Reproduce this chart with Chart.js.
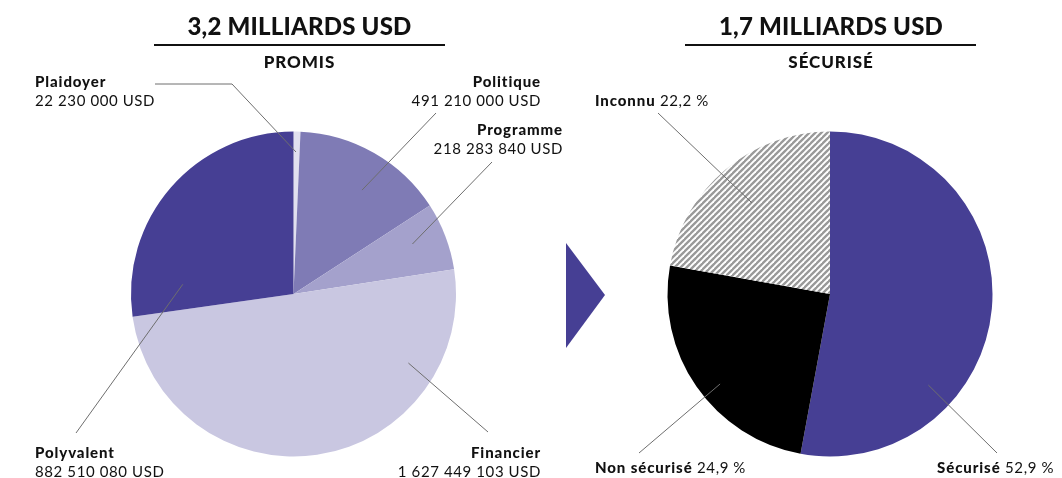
<!DOCTYPE html>
<html><head><meta charset="utf-8">
<script src="https://cdn.jsdelivr.net/npm/chart.js@4/dist/chart.umd.min.js"></script>
<style>
html,body{margin:0;padding:0;background:#fff;}
#wrap{position:relative;width:1062px;height:478px;overflow:hidden;}
canvas{position:absolute;left:0;top:0;}
</style></head><body>
<div id="wrap"><canvas id="c1" width="1062" height="478"></canvas><canvas id="c2" width="1062" height="478"></canvas></div>
<script>
// ---- data ----
const promisCategories = ['Plaidoyer', 'Politique', 'Programme', 'Financier', 'Polyvalent'];
const promisValues = [22230000, 491210000, 218283840, 1627449103, 882510080];
const promisValueLabels = ['22 230 000 USD', '491 210 000 USD', '218 283 840 USD', '1 627 449 103 USD', '882 510 080 USD'];
const securiseCategories = ['Sécurisé', 'Non sécurisé', 'Inconnu'];
const securiseValues = [52.9, 24.9, 22.2];
const securiseValueLabels = ['52,9 %', '24,9 %', '22,2 %'];
const titles = ['3,2 MILLIARDS USD', '1,7 MILLIARDS USD'];
const subtitles = ['PROMIS', 'SÉCURISÉ'];

// ---- hatch pattern ----
const pc = document.createElement('canvas'); pc.width = 6; pc.height = 6;
const pctx = pc.getContext('2d');
pctx.fillStyle = '#ffffff'; pctx.fillRect(0, 0, 6, 6);
pctx.strokeStyle = '#999999'; pctx.lineWidth = 2.3;
for (const k of [0, 6, 12]) { pctx.beginPath(); pctx.moveTo(k + 2, -2); pctx.lineTo(-2, k + 2); pctx.stroke(); }
const hatch = pctx.createPattern(pc, 'repeat');

const FONT = 'Lato, "Open Sans", sans-serif';

function setFont(ctx, weight, size, spacing) {
  ctx.font = weight + ' ' + size + 'px ' + FONT;
  if ('letterSpacing' in ctx) ctx.letterSpacing = (spacing || 0) + 'px';
}
const BOLD = [900, 15, 0.9];
const REG = [400, 15, 0.6];

const callouts = {
  id: 'callouts',
  afterDraw(chart, args, o) {
    const ctx = chart.ctx;
    const meta = chart.getDatasetMeta(0);
    ctx.save();
    ctx.fillStyle = '#111';
    ctx.textBaseline = 'alphabetic';
    ctx.textAlign = 'center';
    setFont(ctx, 900, 24, 0.2);
    ctx.fillText(o.title, o.titleX, 35);
    ctx.fillRect(o.rule[0], 44, o.rule[1] - o.rule[0], 2);
    setFont(ctx, 900, 17, 0.9);
    ctx.fillText(o.subtitle, o.titleX, 68);
    if (o.triangle) {
      ctx.fillStyle = '#463f94';
      ctx.beginPath(); ctx.moveTo(...o.triangle[0]); ctx.lineTo(...o.triangle[1]); ctx.lineTo(...o.triangle[2]); ctx.closePath(); ctx.fill();
    }
    o.items.forEach((it, i) => {
      const arc = meta.data[i];
      const p = arc.getProps(['x', 'y', 'outerRadius'], true);
      const a = it.angle * Math.PI / 180;
      const px = p.x + Math.sin(a) * p.outerRadius * it.r;
      const py = p.y - Math.cos(a) * p.outerRadius * it.r;
      ctx.strokeStyle = '#6e6e6e'; ctx.lineWidth = 1;
      ctx.beginPath();
      ctx.moveTo(it.path[0][0], it.path[0][1]);
      for (let k = 1; k < it.path.length; k++) ctx.lineTo(it.path[k][0], it.path[k][1]);
      ctx.lineTo(px, py);
      ctx.stroke();
      const name = chart.data.labels[i];
      const val = o.values[i];
      ctx.fillStyle = '#111';
      if (it.inline) {
        setFont(ctx, ...BOLD);
        const wn = ctx.measureText(name + ' ').width;
        setFont(ctx, ...REG);
        const wv = ctx.measureText(val).width;
        const x0 = it.align === 'right' ? it.x - wn - wv : it.x;
        ctx.textAlign = 'left';
        setFont(ctx, ...BOLD);
        ctx.fillText(name, x0, it.y);
        setFont(ctx, ...REG);
        ctx.fillText(val, x0 + wn, it.y);
      } else {
        ctx.textAlign = it.align;
        setFont(ctx, ...BOLD);
        ctx.fillText(name, it.x, it.y);
        setFont(ctx, ...REG);
        ctx.fillText(val, it.x, it.y + 19);
      }
    });
    ctx.restore();
  }
};

const common = {
  responsive: false, animation: false, events: [],
  plugins: { legend: { display: false }, tooltip: { enabled: false } }
};

new Chart(document.getElementById('c1'), {
  type: 'pie',
  data: {
    labels: promisCategories,
    datasets: [{ data: promisValues, backgroundColor: ['#e1e0ef', '#7f7bb5', '#a4a1cc', '#c9c7e1', '#463f94'], borderWidth: 0, hoverOffset: 0 }]
  },
  options: {
    ...common,
    layout: { padding: { left: 131, right: 606, top: 131.5, bottom: 21.5 } },
    plugins: {
      ...common.plugins,
      callouts: {
        title: titles[0], subtitle: subtitles[0], titleX: 299.5, rule: [154, 445],
        values: promisValueLabels,
        triangle: [[566, 243], [605, 295], [566, 348]],
        items: [
          { angle: 1, r: 0.874, path: [[155, 84], [232, 84]], align: 'left', x: 35, y: 87 },
          { angle: 33.4, r: 0.766, path: [[436, 113]], align: 'right', x: 541, y: 87 },
          { angle: 67.2, r: 0.794, path: [[492, 162]], align: 'right', x: 563, y: 135 },
          { angle: 121, r: 0.825, path: [[488, 432]], align: 'right', x: 541, y: 458 },
          { angle: 275, r: 0.684, path: [[76, 433]], align: 'left', x: 35, y: 458 }
        ]
      }
    }
  },
  plugins: [callouts]
});

new Chart(document.getElementById('c2'), {
  type: 'pie',
  data: {
    labels: securiseCategories,
    datasets: [{ data: securiseValues, backgroundColor: ['#463f94', '#000000', hatch], borderWidth: 0, hoverOffset: 0 }]
  },
  options: {
    ...common,
    layout: { padding: { left: 667.5, right: 69.5, top: 131.5, bottom: 21.5 } },
    plugins: {
      ...common.plugins,
      callouts: {
        title: titles[1], subtitle: subtitles[1], titleX: 831, rule: [685, 976],
        values: securiseValueLabels,
        items: [
          { angle: 132.8, r: 0.825, path: [[997, 453]], inline: true, align: 'right', x: 1054, y: 473 },
          { angle: 230.7, r: 0.874, path: [[639, 453]], inline: true, align: 'left', x: 595, y: 473 },
          { angle: 319.4, r: 0.74, path: [[658, 113]], inline: true, align: 'left', x: 595, y: 106 }
        ]
      }
    }
  },
  plugins: [callouts]
});
</script>
</body></html>
